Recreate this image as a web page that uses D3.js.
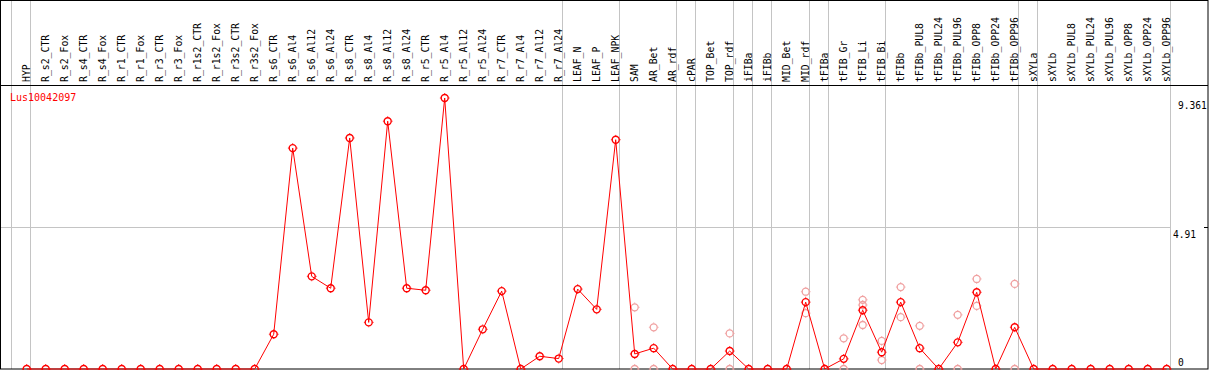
<!DOCTYPE html>
<html>
<head>
<meta charset="utf-8">
<script src="https://cdn.jsdelivr.net/npm/d3@7/dist/d3.min.js"></script>
<style>
  html, body { margin: 0; padding: 0; background: #fff; }
  svg { display: block; }
  text { font-family: "DejaVu Sans Mono", monospace; }
</style>
</head>
<body>
<div id="chart"></div>
<script>
// sample labels, one column each
const categories = [
  'HYP', 'R_s2_CTR', 'R_s2_Fox', 'R_s4_CTR', 'R_s4_Fox', 'R_r1_CTR', 'R_r1_Fox',
  'R_r3_CTR', 'R_r3_Fox', 'R_r1s2_CTR', 'R_r1s2_Fox', 'R_r3s2_CTR', 'R_r3s2_Fox',
  'R_s6_CTR', 'R_s6_Al4', 'R_s6_Al12', 'R_s6_Al24', 'R_s8_CTR', 'R_s8_Al4',
  'R_s8_Al12', 'R_s8_Al24', 'R_r5_CTR', 'R_r5_Al4', 'R_r5_Al12', 'R_r5_Al24',
  'R_r7_CTR', 'R_r7_Al4', 'R_r7_Al12', 'R_r7_Al24', 'LEAF_N', 'LEAF_P', 'LEAF_NPK',
  'SAM', 'AR_Bet', 'AR_rdf', 'cPAR', 'TOP_Bet', 'TOP_rdf', 'iFIBa', 'iFIBb',
  'MID_Bet', 'MID_rdf', 'tFIBa', 'tFIB_Gr', 'tFIB_Li', 'tFIB_Bi', 'tFIBb',
  'tFIBb_PUL8', 'tFIBb_PUL24', 'tFIBb_PUL96', 'tFIBb_OPP8', 'tFIBb_OPP24', 'tFIBb_OPP96',
  'sXYLa', 'sXYLb', 'sXYLb_PUL8', 'sXYLb_PUL24', 'sXYLb_PUL96', 'sXYLb_OPP8',
  'sXYLb_OPP24', 'sXYLb_OPP96'
];

// mean expression (red line)
const meanValues = [
  0, 0, 0, 0, 0, 0, 0, 0, 0, 0, 0, 0, 0,
  1.2, 7.63, 3.2, 2.79, 7.98, 1.61, 8.56, 2.79, 2.72, 9.361, 0, 1.37,
  2.69, 0, 0.44, 0.36, 2.76, 2.06, 7.92,
  0.52, 0.72, 0, 0, 0, 0.62, 0, 0,
  0, 2.31, 0, 0.35, 2.03, 0.58, 2.31,
  0.72, 0, 0.92, 2.65, 0, 1.44,
  0, 0, 0, 0, 0, 0, 0, 0
];

// individual replicates (pale circles)
const repLabels = [
  'SAM', 'SAM', 'AR_Bet', 'AR_Bet', 'TOP_rdf', 'TOP_rdf', 'MID_rdf', 'MID_rdf',
  'tFIB_Gr', 'tFIB_Gr', 'tFIB_Li', 'tFIB_Li', 'tFIB_Li', 'tFIB_Bi', 'tFIB_Bi',
  'tFIBb', 'tFIBb', 'tFIBb_PUL8', 'tFIBb_PUL8', 'tFIBb_PUL96', 'tFIBb_PUL96',
  'tFIBb_OPP8', 'tFIBb_OPP8', 'tFIBb_OPP96', 'tFIBb_OPP96'
];
const repValues = [
  2.13, 0, 1.44, 0, 1.23, 0, 2.67, 1.93,
  1.06, 0, 2.39, 2.21, 1.52, 0.97, 0.31,
  2.83, 1.79, 1.49, 0, 1.87, 0,
  3.11, 2.18, 2.94, 0
];

// last sample of each group (grey separator after it)
const groupEnds = ['HYP', 'R_r7_Al24', 'LEAF_NPK', 'AR_rdf', 'cPAR', 'TOP_rdf', 'iFIBa',
  'iFIBb', 'MID_rdf', 'tFIBa', 'tFIB_Bi', 'tFIBb_OPP96', 'sXYLa', 'sXYLb_OPP96'];

const geneName = 'Lus10042097';
const tickValues = [0, 4.91, 9.361];
const tickLabels = ['0', '4.91', '9.361'];

const W = 1209, H = 370;
const headerBottom = 85, plotBottom = 369, rightEdge = 1208;

const svg = d3.select('#chart').append('svg').attr('width', W).attr('height', H);

const x = d3.scalePoint().domain(categories).range([26.7, 26.7 + 19 * (categories.length - 1)]);
const y = d3.scaleLinear().domain([0, 9.361]).range([plotBottom, 98]);

// grey separators
const sepX = [x('HYP') - 16].concat(groupEnds.map(c => x(c) + 3.6));
svg.selectAll('line.sep').data(sepX).join('line')
  .attr('class', 'sep')
  .attr('x1', d => Math.round(d) + 0.5).attr('x2', d => Math.round(d) + 0.5)
  .attr('y1', 0).attr('y2', plotBottom)
  .attr('stroke', '#c4c4c4').attr('stroke-width', 1);

// mid gridline
const midY = Math.round(y(4.91)) + 0.5;
svg.append('line')
  .attr('x1', 0).attr('x2', x('sXYLb_OPP96') + 3.6)
  .attr('y1', midY).attr('y2', midY)
  .attr('stroke', '#c4c4c4');
svg.append('line')
  .attr('x1', rightEdge - 4).attr('x2', rightEdge)
  .attr('y1', midY).attr('y2', midY)
  .attr('stroke', '#000');

// frame
svg.append('rect').attr('x', 0.5).attr('y', 0.5)
  .attr('width', rightEdge - 0.5).attr('height', plotBottom - 0.5)
  .attr('fill', 'none').attr('stroke', '#000');
svg.append('line').attr('x1', 0).attr('x2', rightEdge)
  .attr('y1', headerBottom + 0.5).attr('y2', headerBottom + 0.5).attr('stroke', '#000');

// column labels, rotated
svg.selectAll('text.col').data(categories).join('text')
  .attr('class', 'col')
  .attr('transform', d => `translate(${Math.round(x(d) + 2) + 0.5},82) rotate(-90)`)
  .attr('font-size', '9.8px')
  .attr('fill', '#000')
  .text(d => d);

// right axis labels
const tickX = [1178, 1173, 1178];
svg.selectAll('text.tick').data(tickValues).join('text')
  .attr('class', 'tick')
  .attr('x', (d, i) => tickX[i])
  .attr('y', (d, i) => i === 0 ? y(d) - 3 : y(d) + 11)
  .attr('font-size', '9.6px')
  .attr('fill', '#000')
  .text((d, i) => tickLabels[i]);

svg.append('text').attr('x', 10).attr('y', 101)
  .attr('font-size', '10px').attr('fill', '#ff0000')
  .text(geneName);

function marker(sel, color, sw) {
  sel.append('circle').attr('r', 3.5).attr('fill', 'none')
    .attr('stroke', color).attr('stroke-width', sw);
  [[0, -1], [0, 1], [-1, 0], [1, 0]].forEach(([dx, dy]) => {
    sel.append('line')
      .attr('x1', dx * 4).attr('y1', dy * 4)
      .attr('x2', dx * 4.8).attr('y2', dy * 4.8)
      .attr('stroke', color).attr('stroke-width', 1);
  });
}

// replicates
svg.selectAll('g.rep').data(repLabels).join('g')
  .attr('class', 'rep')
  .attr('transform', (d, i) => `translate(${x(d)},${y(repValues[i])})`)
  .each(function () { marker(d3.select(this), '#f0a0a0', 1.3); });

// mean line
const line = d3.line().x((d, i) => x(categories[i])).y(d => y(d));
svg.append('path').datum(meanValues)
  .attr('d', line).attr('fill', 'none')
  .attr('stroke', '#ff0000').attr('stroke-width', 1);

svg.selectAll('g.pt').data(meanValues).join('g')
  .attr('class', 'pt')
  .attr('transform', (d, i) => `translate(${x(categories[i])},${y(d)})`)
  .each(function () { marker(d3.select(this), '#ff0000', 1.4); });
</script>
</body>
</html>
